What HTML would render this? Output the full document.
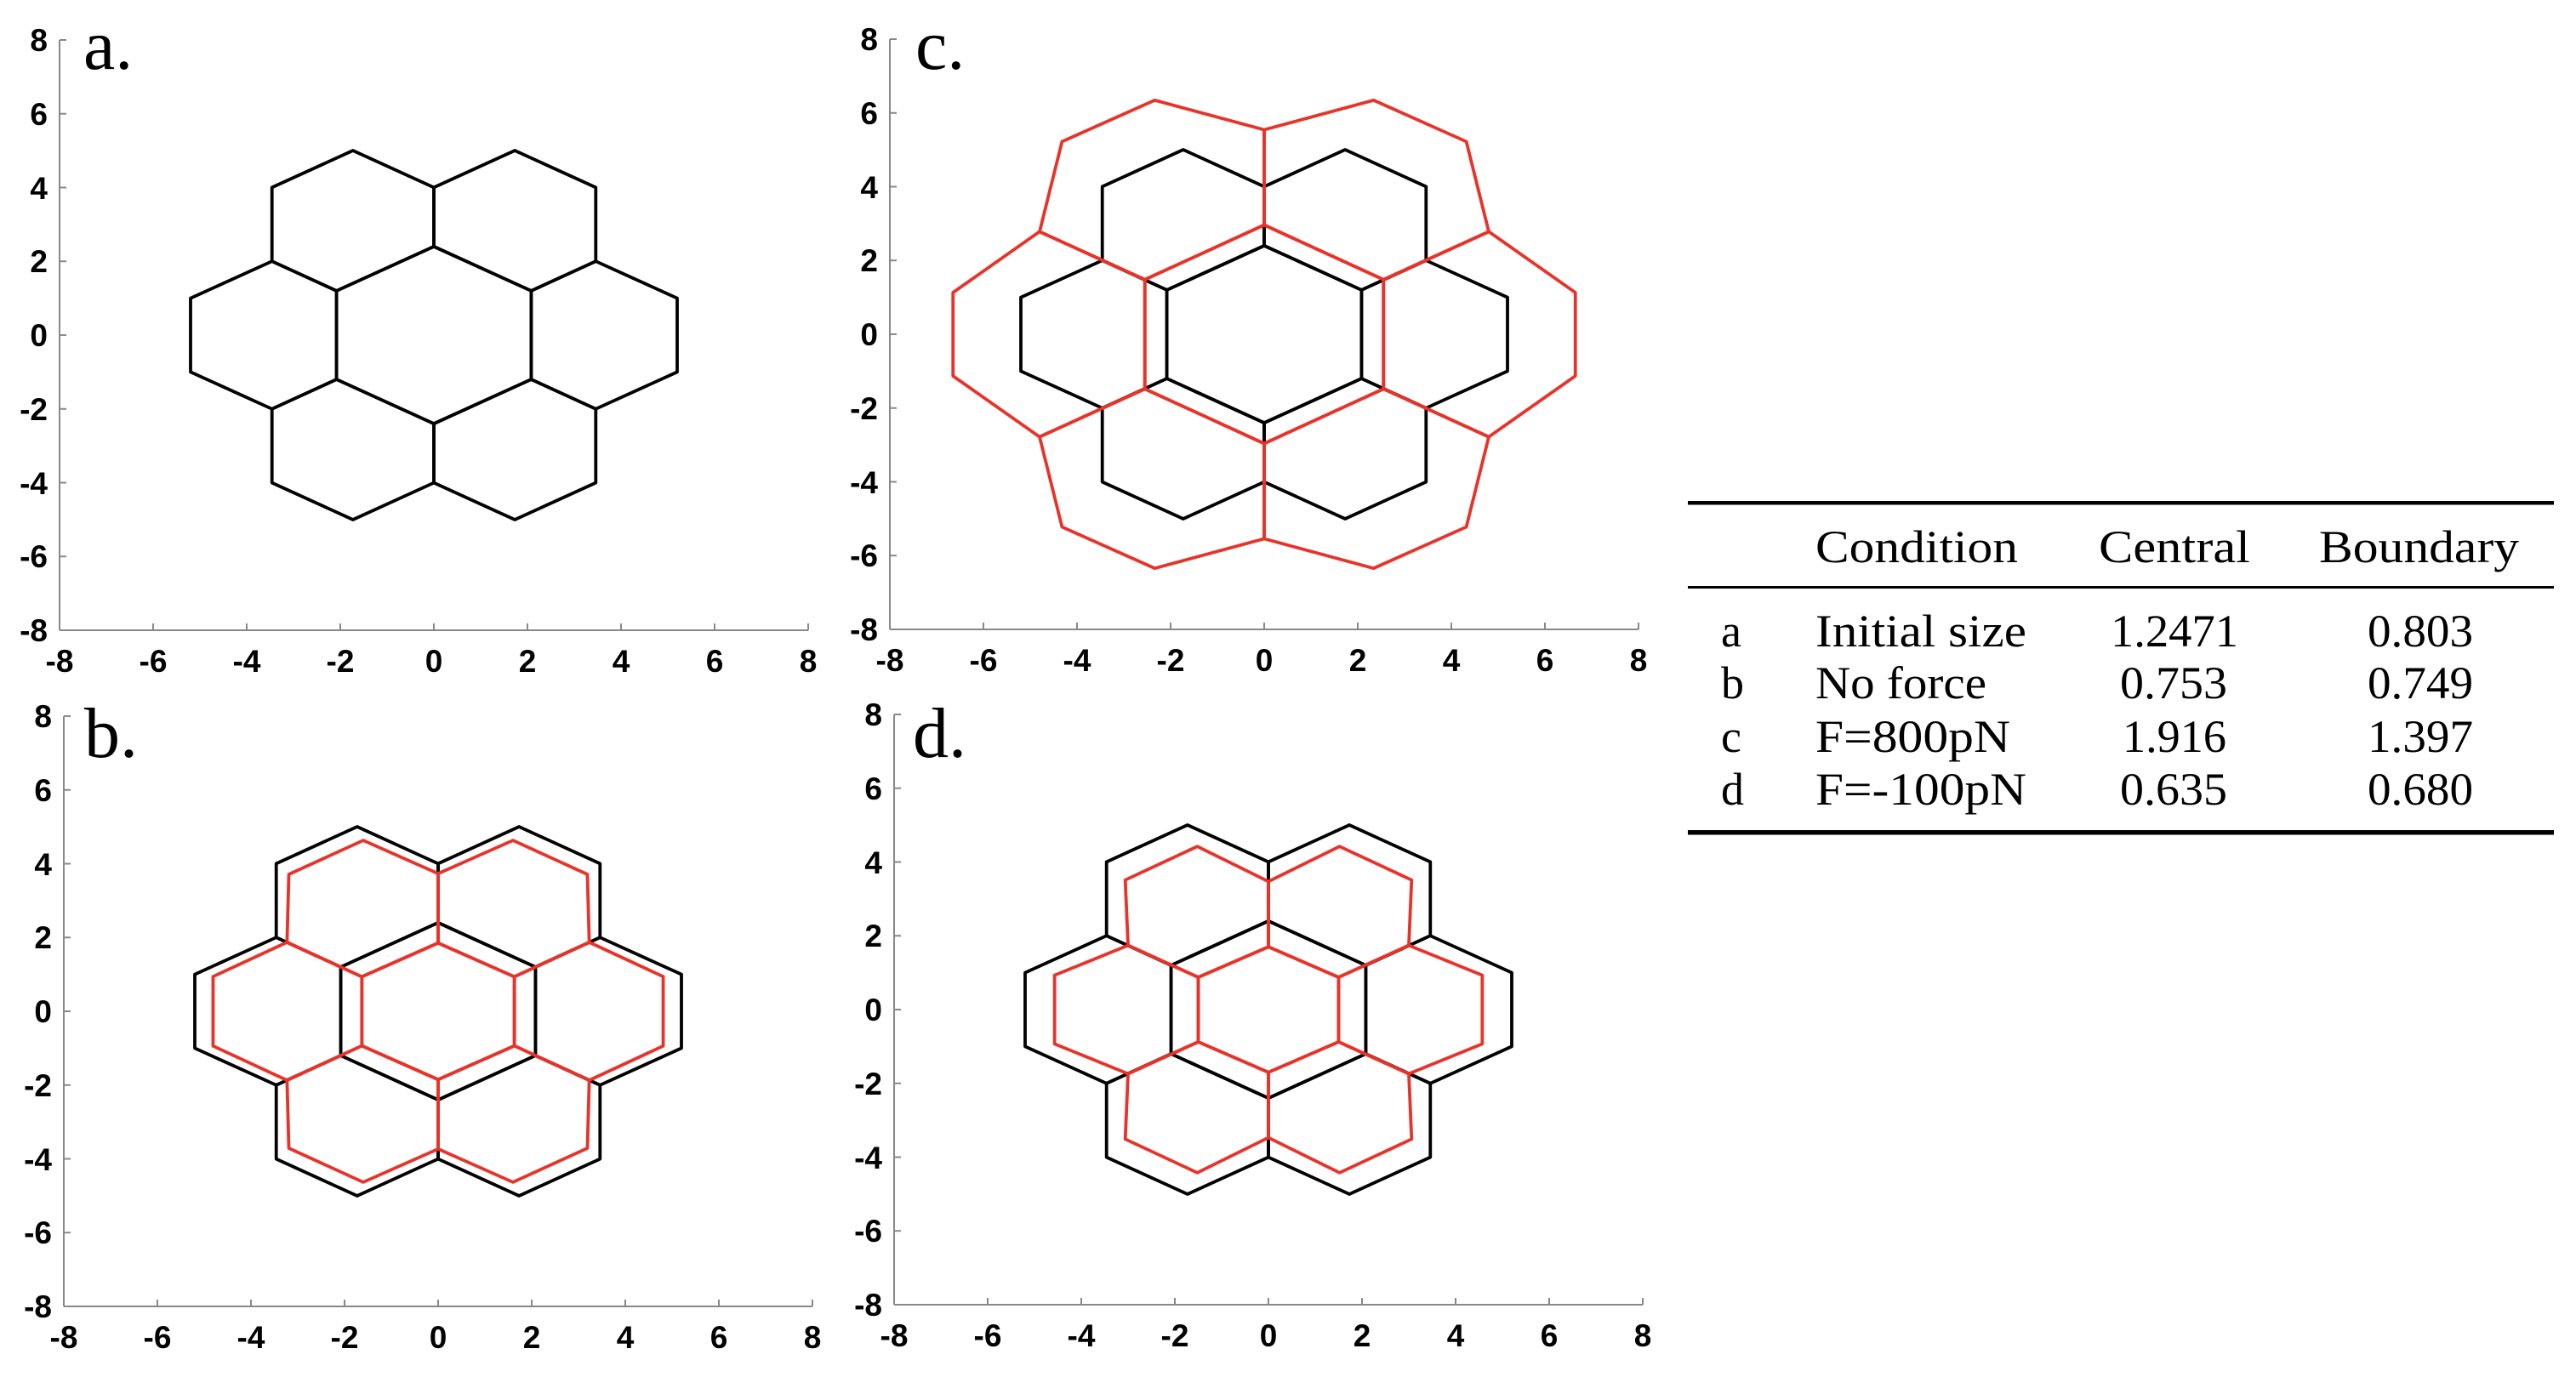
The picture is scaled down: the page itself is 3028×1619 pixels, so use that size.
<!DOCTYPE html>
<html><head><meta charset="utf-8"><style>
html,body{margin:0;padding:0;background:#fff;}
svg{display:block;}
.tk{font-family:"Liberation Sans",sans-serif;font-weight:bold;font-size:37px;fill:#000;}
.pl{font-family:"Liberation Serif",serif;font-size:84px;fill:#000;}
.tb{font-family:"Liberation Serif",serif;font-size:54px;fill:#000;}
.blk polygon{fill:none;stroke:#000;stroke-width:3.8;vector-effect:non-scaling-stroke;stroke-linejoin:round;}
.red polygon{fill:none;stroke:#e8332a;stroke-width:3.8;vector-effect:non-scaling-stroke;stroke-linejoin:round;}
.ax line{stroke:#888;stroke-width:2;}
</style></head><body>
<svg width="3028" height="1619" viewBox="0 0 3028 1619" xmlns="http://www.w3.org/2000/svg">
<defs>
<g id="axes" class="ax">
<line x1="0" y1="0" x2="0" y2="694"/><line x1="0" y1="694" x2="880" y2="694"/>
<line x1="110" y1="694" x2="110" y2="686"/><line x1="220" y1="694" x2="220" y2="686"/><line x1="330" y1="694" x2="330" y2="686"/><line x1="440" y1="694" x2="440" y2="686"/><line x1="550" y1="694" x2="550" y2="686"/><line x1="660" y1="694" x2="660" y2="686"/><line x1="770" y1="694" x2="770" y2="686"/><line x1="880" y1="694" x2="880" y2="686"/>
<line x1="0" y1="0" x2="8" y2="0"/><line x1="0" y1="86.75" x2="8" y2="86.75"/><line x1="0" y1="173.5" x2="8" y2="173.5"/><line x1="0" y1="260.25" x2="8" y2="260.25"/><line x1="0" y1="347" x2="8" y2="347"/><line x1="0" y1="433.75" x2="8" y2="433.75"/><line x1="0" y1="520.5" x2="8" y2="520.5"/><line x1="0" y1="607.25" x2="8" y2="607.25"/>
</g>
<g id="grid" class="blk">
<polygon points="0,2.4 2.08,1.2 2.08,-1.2 0,-2.4 -2.08,-1.2 -2.08,1.2"/>
<polygon points="0,2.4 0,4 1.73,5 3.46,4 3.46,2 2.08,1.2"/>
<polygon points="0,2.4 0,4 -1.73,5 -3.46,4 -3.46,2 -2.08,1.2"/>
<polygon points="0,-2.4 0,-4 1.73,-5 3.46,-4 3.46,-2 2.08,-1.2"/>
<polygon points="0,-2.4 0,-4 -1.73,-5 -3.46,-4 -3.46,-2 -2.08,-1.2"/>
<polygon points="2.08,1.2 3.46,2 5.2,1 5.2,-1 3.46,-2 2.08,-1.2"/>
<polygon points="-2.08,1.2 -3.46,2 -5.2,1 -5.2,-1 -3.46,-2 -2.08,-1.2"/>
</g>
</defs>

<g transform="translate(70,47)">
<use href="#axes"/>
<g class="tk" text-anchor="end">
<text x="-14" y="13">8</text><text x="-14" y="100">6</text><text x="-14" y="187">4</text><text x="-14" y="273">2</text><text x="-14" y="360">0</text><text x="-14" y="447">-2</text><text x="-14" y="534">-4</text><text x="-14" y="620">-6</text><text x="-14" y="707">-8</text>
</g>
<g class="tk" text-anchor="middle">
<text x="0" y="743">-8</text><text x="110" y="743">-6</text><text x="220" y="743">-4</text><text x="330" y="743">-2</text><text x="440" y="743">0</text><text x="550" y="743">2</text><text x="660" y="743">4</text><text x="770" y="743">6</text><text x="880" y="743">8</text>
</g>
<text class="pl" x="28" y="34">a.</text>
<g transform="translate(440,347) scale(55,-43.4)"><use href="#grid"/></g>
</g>

<g transform="translate(1046,46)">
<use href="#axes"/>
<g class="tk" text-anchor="end">
<text x="-14" y="13">8</text><text x="-14" y="100">6</text><text x="-14" y="187">4</text><text x="-14" y="273">2</text><text x="-14" y="360">0</text><text x="-14" y="447">-2</text><text x="-14" y="534">-4</text><text x="-14" y="620">-6</text><text x="-14" y="707">-8</text>
</g>
<g class="tk" text-anchor="middle">
<text x="0" y="743">-8</text><text x="110" y="743">-6</text><text x="220" y="743">-4</text><text x="330" y="743">-2</text><text x="440" y="743">0</text><text x="550" y="743">2</text><text x="660" y="743">4</text><text x="770" y="743">6</text><text x="880" y="743">8</text>
</g>
<text class="pl" x="30" y="35">c.</text>
<g transform="translate(440,347) scale(55,-43.4)">
<use href="#grid"/>
<g class="red">
<polygon points="0,2.96 2.55,1.48 2.55,-1.48 0,-2.96 -2.55,-1.48 -2.55,1.48"/>
<polygon points="0,2.96 0,5.54 2.34,6.34 4.32,5.22 4.8,2.78 2.55,1.48"/>
<polygon points="0,2.96 0,5.54 -2.34,6.34 -4.32,5.22 -4.8,2.78 -2.55,1.48"/>
<polygon points="0,-2.96 0,-5.54 2.34,-6.34 4.32,-5.22 4.8,-2.78 2.55,-1.48"/>
<polygon points="0,-2.96 0,-5.54 -2.34,-6.34 -4.32,-5.22 -4.8,-2.78 -2.55,-1.48"/>
<polygon points="2.55,1.48 4.8,2.78 6.65,1.13 6.65,-1.13 4.8,-2.78 2.55,-1.48"/>
<polygon points="-2.55,1.48 -4.8,2.78 -6.65,1.13 -6.65,-1.13 -4.8,-2.78 -2.55,-1.48"/>
</g></g>
</g>

<g transform="translate(75,842)">
<use href="#axes"/>
<g class="tk" text-anchor="end">
<text x="-14" y="13">8</text><text x="-14" y="100">6</text><text x="-14" y="187">4</text><text x="-14" y="273">2</text><text x="-14" y="360">0</text><text x="-14" y="447">-2</text><text x="-14" y="534">-4</text><text x="-14" y="620">-6</text><text x="-14" y="707">-8</text>
</g>
<g class="tk" text-anchor="middle">
<text x="0" y="743">-8</text><text x="110" y="743">-6</text><text x="220" y="743">-4</text><text x="330" y="743">-2</text><text x="440" y="743">0</text><text x="550" y="743">2</text><text x="660" y="743">4</text><text x="770" y="743">6</text><text x="880" y="743">8</text>
</g>
<text class="pl" x="24" y="48">b.</text>
<g transform="translate(440,347) scale(55,-43.4)">
<use href="#grid"/>
<g class="red">
<polygon points="0,1.85 1.63,0.935 1.63,-0.935 0,-1.85 -1.63,-0.935 -1.63,0.935"/>
<polygon points="0,1.85 0,3.73 1.6,4.63 3.19,3.71 3.23,1.87 1.63,0.935"/>
<polygon points="0,1.85 0,3.73 -1.6,4.63 -3.19,3.71 -3.23,1.87 -1.63,0.935"/>
<polygon points="0,-1.85 0,-3.73 1.6,-4.63 3.19,-3.71 3.23,-1.87 1.63,-0.935"/>
<polygon points="0,-1.85 0,-3.73 -1.6,-4.63 -3.19,-3.71 -3.23,-1.87 -1.63,-0.935"/>
<polygon points="1.63,0.935 3.23,1.87 4.81,0.94 4.81,-0.94 3.23,-1.87 1.63,-0.935"/>
<polygon points="-1.63,0.935 -3.23,1.87 -4.81,0.94 -4.81,-0.94 -3.23,-1.87 -1.63,-0.935"/>
</g></g>
</g>

<g transform="translate(1051,840)">
<use href="#axes"/>
<g class="tk" text-anchor="end">
<text x="-14" y="13">8</text><text x="-14" y="100">6</text><text x="-14" y="187">4</text><text x="-14" y="273">2</text><text x="-14" y="360">0</text><text x="-14" y="447">-2</text><text x="-14" y="534">-4</text><text x="-14" y="620">-6</text><text x="-14" y="707">-8</text>
</g>
<g class="tk" text-anchor="middle">
<text x="0" y="743">-8</text><text x="110" y="743">-6</text><text x="220" y="743">-4</text><text x="330" y="743">-2</text><text x="440" y="743">0</text><text x="550" y="743">2</text><text x="660" y="743">4</text><text x="770" y="743">6</text><text x="880" y="743">8</text>
</g>
<text class="pl" x="22" y="50">d.</text>
<g transform="translate(440,347) scale(55,-43.4)">
<use href="#grid"/>
<g class="red">
<polygon points="0,1.7 1.5,0.875 1.5,-0.875 0,-1.7 -1.5,-0.875 -1.5,0.875"/>
<polygon points="0,1.7 0,3.47 1.52,4.42 3.06,3.51 3.0,1.74 1.5,0.875"/>
<polygon points="0,1.7 0,3.47 -1.52,4.42 -3.06,3.51 -3.0,1.74 -1.5,0.875"/>
<polygon points="0,-1.7 0,-3.47 1.52,-4.42 3.06,-3.51 3.0,-1.74 1.5,-0.875"/>
<polygon points="0,-1.7 0,-3.47 -1.52,-4.42 -3.06,-3.51 -3.0,-1.74 -1.5,-0.875"/>
<polygon points="1.5,0.875 3.0,1.74 4.57,0.93 4.57,-0.93 3.0,-1.74 1.5,-0.875"/>
<polygon points="-1.5,0.875 -3.0,1.74 -4.57,0.93 -4.57,-0.93 -3.0,-1.74 -1.5,-0.875"/>
</g></g>
</g>

<rect x="1984" y="589" width="1018" height="4.5" fill="#000"/>
<rect x="1984" y="689" width="1018" height="3" fill="#000"/>
<rect x="1984" y="976" width="1018" height="5.5" fill="#000"/>
<g class="tb">
<text x="2134" y="661" textLength="238" lengthAdjust="spacingAndGlyphs">Condition</text>
<text x="2467" y="661" textLength="178" lengthAdjust="spacingAndGlyphs">Central</text>
<text x="2726" y="661" textLength="235" lengthAdjust="spacingAndGlyphs">Boundary</text>

<text x="2023" y="760">a</text>
<text x="2134" y="760" textLength="248" lengthAdjust="spacingAndGlyphs">Initial size</text>
<text x="2481" y="760" textLength="150" lengthAdjust="spacingAndGlyphs">1.2471</text>
<text x="2783" y="760" textLength="124" lengthAdjust="spacingAndGlyphs">0.803</text>

<text x="2023" y="821">b</text>
<text x="2134" y="821" textLength="201" lengthAdjust="spacingAndGlyphs">No force</text>
<text x="2492" y="821" textLength="126" lengthAdjust="spacingAndGlyphs">0.753</text>
<text x="2783" y="821" textLength="124" lengthAdjust="spacingAndGlyphs">0.749</text>

<text x="2023" y="884">c</text>
<text x="2134" y="884" textLength="229" lengthAdjust="spacingAndGlyphs">F=800pN</text>
<text x="2495" y="884" textLength="122" lengthAdjust="spacingAndGlyphs">1.916</text>
<text x="2783" y="884" textLength="124" lengthAdjust="spacingAndGlyphs">1.397</text>

<text x="2023" y="946">d</text>
<text x="2134" y="946" textLength="248" lengthAdjust="spacingAndGlyphs">F=-100pN</text>
<text x="2492" y="946" textLength="126" lengthAdjust="spacingAndGlyphs">0.635</text>
<text x="2783" y="946" textLength="124" lengthAdjust="spacingAndGlyphs">0.680</text>
</g>
</svg>
</body></html>
